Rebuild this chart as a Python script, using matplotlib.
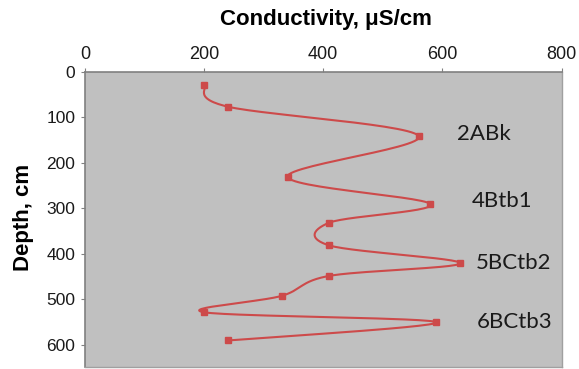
import numpy as np
import matplotlib
matplotlib.use("Agg")
import matplotlib.pyplot as plt

# Data
conductivity = [200, 240, 560, 340, 580, 410, 410, 630, 410, 330, 200, 590, 240]
depth = [30, 77, 141, 231, 291, 332, 382, 421, 449, 493, 529, 551, 591]
horizon_labels = ["2ABk", "4Btb1", "5BCtb2", "6BCtb3"]
horizon_label_x = [670, 700, 720, 722]
horizon_label_depth = [138, 285, 420, 551]
x_ticks = [0, 200, 400, 600, 800]
y_ticks = [0, 100, 200, 300, 400, 500, 600]


def smooth(xs, ys, n=30):
    # Excel-style smoothed line (Catmull-Rom / cardinal Bezier)
    P = np.column_stack([xs, ys]).astype(float)
    m = len(P)
    out = []
    for i in range(m - 1):
        p0 = P[i - 1] if i > 0 else P[i]
        p1 = P[i]
        p2 = P[i + 1]
        p3 = P[i + 2] if i + 2 < m else P[i + 1]
        c1 = p1 + (p2 - p0) / 6.0
        c2 = p2 - (p3 - p1) / 6.0
        t = np.linspace(0, 1, n)[:, None]
        seg = ((1 - t) ** 3) * p1 + 3 * ((1 - t) ** 2) * t * c1 + 3 * (1 - t) * t ** 2 * c2 + t ** 3 * p2
        if i > 0:
            seg = seg[1:]
        out.append(seg)
    out = np.vstack(out)
    return out[:, 0], out[:, 1]


fig = plt.figure(figsize=(5.79, 3.69), dpi=100)
ax = fig.add_axes([85 / 579, 1.7 / 369, 476.5 / 579, 295.6 / 369])
ax.set_facecolor("#C0C0C0")

sx, sy = smooth(conductivity, depth)
red = "#CD4A4A"
ax.plot(sx, sy, color=red, lw=1.5, zorder=3)
ax.plot(conductivity, depth, ls="none", marker="s", ms=5, color=red, zorder=4)

for lab, lx, ly in zip(horizon_labels, horizon_label_x, horizon_label_depth):
    ax.text(lx, ly, lab, fontsize=16, family="Lato", color="#1a1a1a",
            ha="center", va="center", zorder=5)

ax.set_xlim(0, 800)
ax.set_ylim(650, 0)
ax.set_xticks(x_ticks)
ax.set_yticks(y_ticks)
ax.xaxis.set_ticks_position("top")
ax.tick_params(axis="x", direction="out", length=3, color="#808080",
               labelsize=13, pad=3, labelcolor="#1a1a1a")
ax.tick_params(axis="y", direction="out", length=3, color="#808080",
               labelsize=12.5, pad=4, labelcolor="#1a1a1a")
for lbl in ax.get_xticklabels() + ax.get_yticklabels():
    lbl.set_family("Liberation Sans")

for side in ["top", "left"]:
    ax.spines[side].set_color("#808080")
    ax.spines[side].set_linewidth(1.2)
for side in ["right", "bottom"]:
    ax.spines[side].set_color("#A0A0A0")
    ax.spines[side].set_linewidth(1.0)

fig.text(325.5 / 579, 1 - 19 / 369, "Conductivity, \u03bcS/cm", fontsize=16,
         fontweight="bold", family="Liberation Sans", ha="center", va="center")
fig.text(23 / 579, 1 - 217.5 / 369, "Depth, cm", fontsize=16, rotation=90,
         fontweight="bold", family="Liberation Sans", ha="center", va="center")

fig.savefig("out.png", dpi=100)
